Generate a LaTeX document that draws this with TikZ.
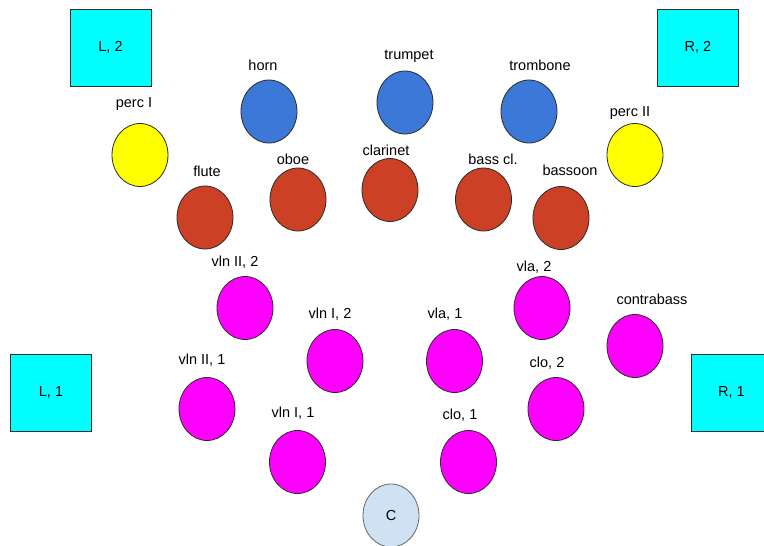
\documentclass[tikz,border=0pt]{standalone}
\usepackage{fontspec}
\setmainfont{Liberation Sans}
\usetikzlibrary{positioning,shapes.geometric}

\definecolor{spkcyan}{HTML}{00FFFF}
\definecolor{brassblue}{HTML}{3C78D8}
\definecolor{windred}{HTML}{CC4125}
\definecolor{percyellow}{HTML}{FFFF00}
\definecolor{strmagenta}{HTML}{FF00FF}
\definecolor{condblue}{HTML}{CFE2F3}
\definecolor{edgegray}{HTML}{2B2B2B}

\begin{document}
\begin{tikzpicture}[x=1pt, y=-1pt,
    speaker/.style={rectangle, draw=edgegray, line width=1pt, fill=spkcyan, minimum width=81pt, minimum height=77pt, inner sep=0pt, font=\fontsize{14.5}{17}\selectfont},
    player/.style={ellipse, draw=edgegray, line width=0.8pt, minimum width=56pt, minimum height=63pt, inner sep=0pt},
    brass/.style={player, fill=brassblue},
    wind/.style={player, fill=windred},
    perc/.style={player, fill=percyellow},
    strings/.style={player, fill=strmagenta},
    lbl/.style={inner sep=0pt, font=\fontsize{14.5}{17}\selectfont}]

\useasboundingbox (0,0) rectangle (764,546);

% Speakers
\node[speaker] (l2) at (110.5,47.5) {L, 2};
\node[speaker] (r2) at (698,47.5) {R, 2};
\node[speaker] (l1) at (51,392.5) {L, 1};
\begin{scope}
\clip (0,0) rectangle (764,546);
\node[speaker] (r1) at (731.5,392.5) {R, 1};
\end{scope}

% Percussion
\node[perc] (percI) at (140,155) {};
\node[perc] (percII) at (635,155) {};
\node[lbl] (percIlbl) at (134,104) {perc I};
\node[lbl] (percIIlbl) at (630,113) {perc II};

% Brass
\node[brass] (horn) at (269,111.5) {};
\node[brass] (trumpet) at (405,102.5) {};
\node[brass] (trombone) at (529,111.5) {};
\node[lbl] (hornlbl) at (263,65) {horn};
\node[lbl] (trumpetlbl) at (409,56) {trumpet};
\node[lbl] (trombonelbl) at (540,65) {trombone};

% Woodwinds
\node[wind] (flute) at (205,217.5) {};
\node[wind] (oboe) at (298,199.5) {};
\node[wind] (clarinet) at (390,190) {};
\node[wind] (basscl) at (483.5,199.5) {};
\node[wind] (bassoon) at (561,218) {};
\node[lbl] (flutelbl) at (207,171) {flute};
\node[lbl] (oboelbl) at (293,159) {oboe};
\node[lbl] (clarinetlbl) at (386,150) {clarinet};
\node[lbl] (basscllbl) at (493,159) {bass cl.};
\node[lbl] (bassoonlbl) at (570,170) {bassoon};

% Strings
\node[strings] (vlnIItwo) at (245,308) {};
\node[strings] (vlnItwo) at (335,361) {};
\node[strings] (vlnIIone) at (207,409) {};
\node[strings] (vlnIone) at (297.5,462) {};
\node[strings] (vlatwo) at (542,308) {};
\node[strings] (contrabass) at (635,346) {};
\node[strings] (vlaone) at (454.5,361) {};
\node[strings] (clotwo) at (556,409) {};
\node[strings] (cloone) at (468.5,462) {};
\node[lbl] (vlnIItwolbl) at (235,262) {vln II, 2};
\node[lbl] (vlnItwolbl) at (330,314) {vln I, 2};
\node[lbl] (vlnIIonelbl) at (202,360) {vln II, 1};
\node[lbl] (vlnIonelbl) at (293,413) {vln I, 1};
\node[lbl] (vlatwolbl) at (534,267) {vla, 2};
\node[lbl] (contrabasslbl) at (652,299) {contrabass};
\node[lbl] (vlaonelbl) at (445,314) {vla, 1};
\node[lbl] (clotwolbl) at (547,363) {clo, 2};
\node[lbl] (cloonelbl) at (460,415) {clo, 1};

% Conductor
\node[player, draw=gray!80!black, fill=condblue, font=\fontsize{14.5}{17}\selectfont] (cond) at (391,515.5) {C};

\end{tikzpicture}
\end{document}
